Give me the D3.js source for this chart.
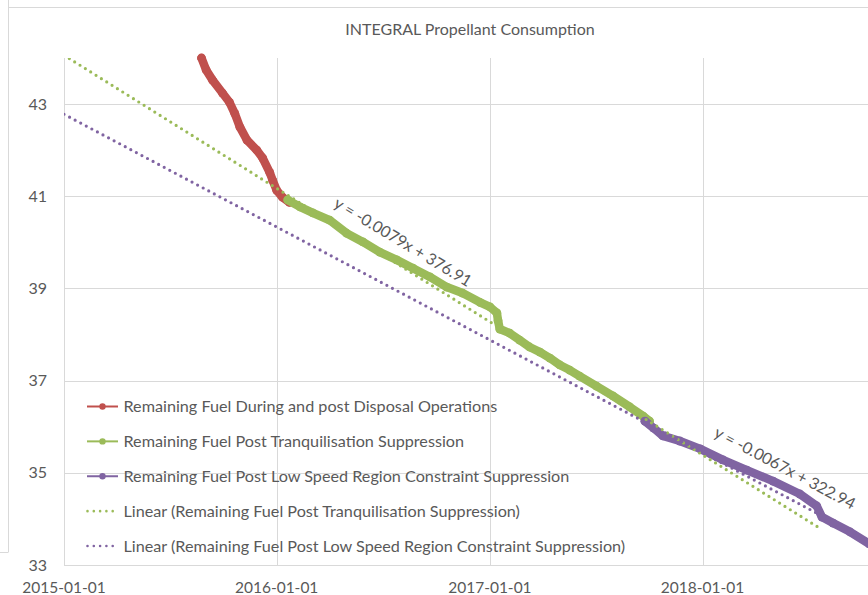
<!DOCTYPE html>
<html>
<head>
<meta charset="utf-8">
<script src="https://cdn.jsdelivr.net/npm/d3@7"></script>
<style>
  body { margin: 0; background: #fff; }
  svg { display: block; overflow: hidden; }
</style>
</head>
<body>
<svg id="chart" width="868" height="595"></svg>
<script>
// remaining fuel (kg)
let redSeries = [
  ["2015-08-25", 44.00], ["2015-09-02", 43.74], ["2015-09-13", 43.52], ["2015-09-30", 43.24],
  ["2015-10-12", 43.04], ["2015-10-21", 42.80], ["2015-10-30", 42.50], ["2015-11-11", 42.22],
  ["2015-11-28", 42.00], ["2015-12-08", 41.83], ["2015-12-20", 41.52], ["2015-12-25", 41.35],
  ["2016-01-01", 41.13], ["2016-01-11", 40.98], ["2016-01-23", 40.87]
];
let greenSeries = [
  ["2016-01-20", 40.92], ["2016-02-10", 40.77], ["2016-03-03", 40.64], ["2016-04-01", 40.48],
  ["2016-04-30", 40.20], ["2016-05-28", 40.01], ["2016-06-26", 39.79], ["2016-07-25", 39.62],
  ["2016-08-22", 39.44], ["2016-09-20", 39.25], ["2016-10-19", 39.03], ["2016-11-15", 38.90],
  ["2016-12-15", 38.70], ["2017-01-01", 38.60], ["2017-01-13", 38.47], ["2017-01-15", 38.30],
  ["2017-01-18", 38.12], ["2017-02-04", 38.03], ["2017-02-21", 37.88], ["2017-03-10", 37.73],
  ["2017-03-28", 37.62], ["2017-04-14", 37.49], ["2017-05-01", 37.34], ["2017-05-18", 37.23],
  ["2017-06-04", 37.10], ["2017-07-03", 36.88], ["2017-07-31", 36.67], ["2017-08-29", 36.43],
  ["2017-09-21", 36.23], ["2017-10-02", 36.12]
];
let purpleSeries = [
  ["2017-09-24", 36.12], ["2017-10-09", 35.97], ["2017-10-25", 35.80], ["2017-11-23", 35.69],
  ["2017-12-28", 35.52], ["2018-02-05", 35.28], ["2018-03-18", 35.06], ["2018-05-02", 34.82],
  ["2018-06-17", 34.54], ["2018-07-16", 34.28], ["2018-07-25", 34.04], ["2018-08-13", 33.91],
  ["2018-09-11", 33.72], ["2018-10-14", 33.46]
];
// linear trendlines (start / end)
let greenTrend = [["2015-01-01", 44.06], ["2018-07-21", 33.80]];
let purpleTrend = [["2015-01-01", 42.78], ["2018-12-31", 33.00]];

let yTicks = [33, 35, 37, 39, 41, 43];
let xTicks = ["2015-01-01", "2016-01-01", "2017-01-01", "2018-01-01"];
let xEnd = "2019-01-01";

let legendLabels = [
  "Remaining Fuel During and post Disposal Operations",
  "Remaining Fuel Post Tranquilisation Suppression",
  "Remaining Fuel Post Low Speed Region Constraint Suppression",
  "Linear (Remaining Fuel Post Tranquilisation Suppression)",
  "Linear (Remaining Fuel Post Low Speed Region Constraint Suppression)"
];
let trendLabels = ["y = -0.0079x + 376.91", "y = -0.0067x + 322.94"];

let redColor = "#c0504d";
let greenColor = "#9bbb59";
let purpleColor = "#8064a2";
let gridColor = "#d9d9d9";
let textColor = "#595959";
let font = "Lato, 'Open Sans', sans-serif";

let parse = d3.timeParse("%Y-%m-%d");

let svg = d3.select("#chart");

let plotLeft = 64, plotTop = 58, plotBottom = 565;

let x = d3.scaleTime()
  .domain([parse(xTicks[0]), parse(xEnd)])
  .range([plotLeft, 915.2]);
let y = d3.scaleLinear()
  .domain([33, 44])
  .range([plotBottom, plotTop]);

// outer chart / sheet frame
svg.append("line").attr("x1", 8.5).attr("x2", 8.5).attr("y1", 0).attr("y2", 552)
  .style("stroke", gridColor);
svg.append("line").attr("x1", 0).attr("x2", 8.5).attr("y1", 552.5).attr("y2", 552.5)
  .style("stroke", gridColor);
svg.append("line").attr("x1", 8.5).attr("x2", 868).attr("y1", 7.5).attr("y2", 7.5)
  .style("stroke", gridColor);

// gridlines
svg.selectAll(".hgrid")
  .data(yTicks)
  .enter()
  .append("line")
  .attr("x1", plotLeft)
  .attr("x2", 868)
  .attr("y1", d => Math.round(y(d)) + 0.5)
  .attr("y2", d => Math.round(y(d)) + 0.5)
  .style("stroke", gridColor);
svg.selectAll(".vgrid")
  .data(xTicks)
  .enter()
  .append("line")
  .attr("x1", d => Math.round(x(parse(d))) + 0.5)
  .attr("x2", d => Math.round(x(parse(d))) + 0.5)
  .attr("y1", plotTop)
  .attr("y2", plotBottom)
  .style("stroke", gridColor);

// y axis labels
svg.selectAll(".ylab")
  .data(yTicks)
  .enter()
  .append("text")
  .attr("x", 47)
  .attr("y", d => y(d))
  .attr("dy", "0.35em")
  .attr("text-anchor", "end")
  .text(d => d)
  .style("font-family", font)
  .style("font-size", "16px")
  .style("fill", textColor);

// x axis labels
svg.selectAll(".xlab")
  .data(xTicks)
  .enter()
  .append("text")
  .attr("x", d => x(parse(d)))
  .attr("y", 593)
  .attr("text-anchor", "middle")
  .text(d => d)
  .style("font-family", font)
  .style("font-size", "15.5px")
  .style("fill", textColor);

// title
svg.append("text")
  .attr("x", 470)
  .attr("y", 35)
  .attr("text-anchor", "middle")
  .text("INTEGRAL Propellant Consumption")
  .style("font-family", font)
  .style("font-size", "16px")
  .style("fill", textColor);

// data series: dense markers drawn as a thick line plus dots
let line = d3.line()
  .x(d => x(parse(d[0])))
  .y(d => y(d[1]));

function drawSeries(data, color) {
  svg.append("path")
    .datum(data)
    .attr("d", line)
    .style("fill", "none")
    .style("stroke", color)
    .style("stroke-width", 8.5)
    .style("stroke-linejoin", "round")
    .style("stroke-linecap", "round");
  svg.append("g")
    .selectAll("circle")
    .data(data)
    .enter()
    .append("circle")
    .attr("cx", d => x(parse(d[0])))
    .attr("cy", d => y(d[1]))
    .attr("r", 4.4)
    .style("fill", color);
}
drawSeries(redSeries, redColor);
drawSeries(greenSeries, greenColor);
drawSeries(purpleSeries, purpleColor);

// trendlines, clipped to plot area
svg.append("clipPath")
  .attr("id", "plotClip")
  .append("rect")
  .attr("x", plotLeft)
  .attr("y", plotTop)
  .attr("width", 868 - plotLeft)
  .attr("height", plotBottom - plotTop);

function drawTrend(data, color) {
  svg.append("path")
    .datum(data)
    .attr("d", line)
    .attr("clip-path", "url(#plotClip)")
    .style("fill", "none")
    .style("stroke", color)
    .style("stroke-width", 3.2)
    .style("stroke-linecap", "round")
    .style("stroke-dasharray", "0 6.3");
}
drawTrend(greenTrend, greenColor);
drawTrend(purpleTrend, purpleColor);

// trendline equations
svg.append("text")
  .attr("transform", "translate(403,242) rotate(31)")
  .attr("text-anchor", "middle")
  .attr("dy", "0.35em")
  .text(trendLabels[0])
  .style("font-family", font)
  .style("font-size", "16px")
  .style("fill", textColor);
svg.append("text")
  .attr("transform", "translate(785,468) rotate(28)")
  .attr("text-anchor", "middle")
  .attr("dy", "0.35em")
  .text(trendLabels[1])
  .style("font-family", font)
  .style("font-size", "16px")
  .style("fill", textColor);

// legend
let legendColors = [redColor, greenColor, purpleColor, greenColor, purpleColor];
let legendY = d3.scaleLinear().domain([0, 4]).range([406.5, 546]);

let legend = svg.append("g");
legendLabels.forEach(function(label, i) {
  let ly = legendY(i);
  if (i < 3) {
    legend.append("line")
      .attr("x1", 87).attr("x2", 118)
      .attr("y1", ly).attr("y2", ly)
      .style("stroke", legendColors[i])
      .style("stroke-width", 2);
    legend.append("circle")
      .attr("cx", 102.5).attr("cy", ly).attr("r", 3.2)
      .style("fill", legendColors[i]);
  } else {
    legend.append("line")
      .attr("x1", 87.5).attr("x2", 118)
      .attr("y1", ly).attr("y2", ly)
      .style("stroke", legendColors[i])
      .style("stroke-width", 2.6)
      .style("stroke-linecap", "round")
      .style("stroke-dasharray", "0 6.3");
  }
  legend.append("text")
    .attr("x", 123.5)
    .attr("y", ly)
    .attr("dy", "0.35em")
    .text(label)
    .style("font-family", font)
    .style("font-size", "16.2px")
    .style("fill", textColor);
});
</script>
</body>
</html>
